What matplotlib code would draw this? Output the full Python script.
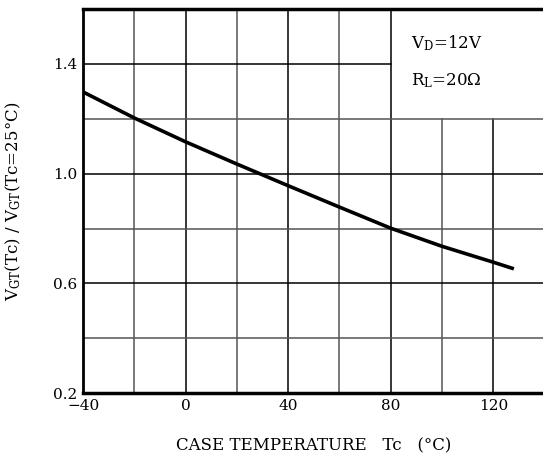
import numpy as np
import matplotlib.pyplot as plt

# curve
temp = [-40, -20, 0, 20, 40, 60, 80, 100, 120, 128]
ratio = [1.298, 1.203, 1.116, 1.035, 0.956, 0.878, 0.801, 0.735, 0.677, 0.653]

x_grid = np.arange(-40, 141, 20)
y_grid = np.round(np.arange(0.2, 1.61, 0.2), 1)
x_labels = [-40, 0, 40, 80, 120]
y_labels = [0.2, 0.6, 1.0, 1.4]

plt.rcParams['font.family'] = ['DejaVu Serif']
plt.rcParams['mathtext.fontset'] = 'dejavuserif'

fig = plt.figure(figsize=(5.43, 4.57), dpi=100)
ax = fig.add_axes([0.153, 0.140, 0.850, 0.840])
ax.set_xlim(-40, 140)
ax.set_ylim(0.2, 1.6)

# grid, leaving the legend box (80..140, 1.2..1.6) empty
for x in x_grid:
    col = 'black' if x in x_labels else '#555555'
    top = 1.2 if 80 < x < 140 else 1.6
    ax.plot([x, x], [0.2, top], color=col, lw=1.1, zorder=1)
for y in y_grid:
    col = 'black' if y in y_labels else '#555555'
    right = 80 if 1.2 < y < 1.6 else 140
    ax.plot([-40, right], [y, y], color=col, lw=1.1, zorder=1)

ax.plot(temp, ratio, color='black', lw=2.6, zorder=3, solid_capstyle='butt')

ax.text(88, 1.475, r'V$_\mathregular{D}$=12V', fontsize=12, va='center')
ax.text(88, 1.338, r'R$_\mathregular{L}$=20$\Omega$', fontsize=12, va='center')

ax.set_xticks(x_labels)
ax.set_xticklabels(['\u221240' if v < 0 else str(v) for v in x_labels])
ax.set_yticks(y_labels)
ax.set_yticklabels([f'{v:.1f}' for v in y_labels])
ax.tick_params(length=0, labelsize=11, pad=4)

for side in ['top', 'bottom']:
    ax.spines[side].set_linewidth(2.5)
ax.spines['left'].set_linewidth(2.0)
ax.spines['right'].set_visible(False)

ax.set_xlabel('CASE TEMPERATURE   Tc   (\u00b0C)', fontsize=12, labelpad=18)
ax.set_ylabel(r'V$_\mathregular{GT}$(Tc) / V$_\mathregular{GT}$(Tc=25$\degree$C)', fontsize=12, labelpad=22)

fig.savefig('out.png', dpi=100)
